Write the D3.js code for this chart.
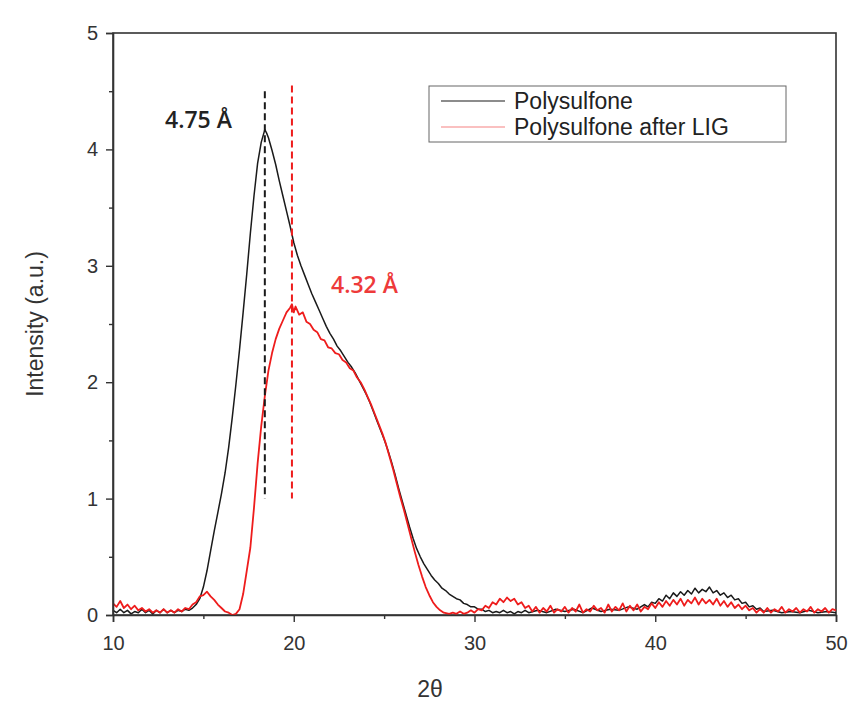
<!DOCTYPE html>
<html>
<head>
<meta charset="utf-8">
<script src="https://cdn.jsdelivr.net/npm/d3@7"></script>
<style>
  html, body { margin: 0; padding: 0; background: #fff; }
  svg { display: block; }
</style>
</head>
<body>
<svg id="chart"></svg>
<script>
// XRD patterns, 2-theta vs intensity
const polyTheta = [10.0,10.2,10.4,10.6,10.8,11.0,11.2,11.4,11.6,11.8,12.0,12.2,12.4,12.6,12.8,13.0,13.2,13.4,13.6,13.8,14.0,14.2,14.4,14.6,14.8,15.0,15.2,15.4,15.6,15.8,16.0,16.2,16.4,16.6,16.8,17.0,17.2,17.4,17.6,17.8,18.0,18.2,18.4,18.5,18.6,18.8,19.0,19.2,19.4,19.6,19.8,20.0,20.2,20.4,20.6,20.8,21.0,21.2,21.4,21.6,21.8,22.0,22.2,22.4,22.6,22.8,23.0,23.2,23.4,23.6,23.8,24.0,24.2,24.4,24.6,24.8,25.0,25.2,25.4,25.6,25.8,26.0,26.2,26.4,26.6,26.8,27.0,27.2,27.4,27.6,27.8,28.0,28.2,28.4,28.6,28.8,29.0,29.2,29.4,29.6,29.8,30.0,30.2,30.4,30.6,30.8,31.0,31.2,31.4,31.6,31.8,32.0,32.2,32.4,32.6,32.8,33.0,33.5,34.0,34.5,35.0,35.5,36.0,36.5,37.0,37.5,38.0,38.5,39.0,39.4,39.6,39.8,40.0,40.2,40.4,40.6,40.8,41.0,41.2,41.4,41.6,41.8,42.0,42.2,42.4,42.6,42.8,43.0,43.2,43.4,43.6,43.8,44.0,44.2,44.4,44.6,44.8,45.0,45.2,45.4,45.6,45.8,46.0,46.5,47.0,47.5,48.0,48.5,49.0,49.5,50.0];
const polyI = [0.04,0.02,0.05,0.02,0.04,0.01,0.03,0.02,0.05,0.02,0.04,0.01,0.04,0.02,0.05,0.02,0.04,0.02,0.04,0.03,0.05,0.04,0.06,0.09,0.14,0.24,0.38,0.55,0.72,0.88,1.04,1.22,1.44,1.70,1.98,2.28,2.60,2.93,3.28,3.60,3.88,4.06,4.17,4.14,4.10,3.99,3.87,3.73,3.60,3.47,3.34,3.20,3.09,3.00,2.92,2.84,2.76,2.69,2.62,2.55,2.48,2.42,2.37,2.31,2.27,2.22,2.17,2.13,2.08,2.02,1.96,1.90,1.83,1.75,1.67,1.59,1.51,1.42,1.32,1.21,1.09,0.98,0.87,0.76,0.66,0.57,0.50,0.44,0.39,0.34,0.30,0.27,0.23,0.21,0.18,0.16,0.14,0.13,0.10,0.09,0.07,0.07,0.05,0.05,0.03,0.04,0.02,0.03,0.02,0.04,0.02,0.03,0.01,0.03,0.02,0.04,0.02,0.04,0.02,0.05,0.03,0.05,0.02,0.06,0.03,0.05,0.04,0.07,0.05,0.09,0.07,0.11,0.10,0.14,0.12,0.17,0.14,0.19,0.16,0.20,0.17,0.21,0.18,0.23,0.19,0.22,0.20,0.24,0.19,0.21,0.17,0.19,0.15,0.17,0.13,0.14,0.10,0.11,0.07,0.08,0.05,0.06,0.03,0.04,0.02,0.03,0.02,0.04,0.02,0.03,0.02];

const ligTheta = [10.0,10.2,10.4,10.6,10.8,11.0,11.2,11.4,11.6,11.8,12.0,12.2,12.4,12.6,12.8,13.0,13.2,13.4,13.6,13.8,14.0,14.2,14.4,14.6,14.8,15.0,15.2,15.4,15.6,15.8,16.0,16.2,16.4,16.6,16.8,17.0,17.2,17.4,17.6,17.8,18.0,18.2,18.4,18.6,18.8,19.0,19.2,19.4,19.6,19.8,19.9,20.0,20.1,20.3,20.5,20.7,20.9,21.1,21.3,21.5,21.7,21.9,22.1,22.3,22.5,22.7,22.9,23.1,23.3,23.5,23.7,23.9,24.1,24.3,24.5,24.7,24.9,25.1,25.3,25.5,25.7,25.9,26.1,26.3,26.5,26.7,26.9,27.1,27.3,27.5,27.7,27.9,28.1,28.3,28.6,28.8,29.0,29.2,29.4,29.6,29.8,30.0,30.2,30.4,30.6,30.8,31.0,31.2,31.4,31.6,31.8,32.0,32.2,32.4,32.6,32.8,33.0,33.2,33.4,33.6,33.8,34.0,34.2,34.4,34.6,34.8,35.0,35.2,35.4,35.6,35.8,36.0,36.2,36.4,36.6,36.8,37.0,37.2,37.4,37.6,37.8,38.0,38.2,38.4,38.6,38.8,39.0,39.2,39.4,39.6,39.8,40.0,40.2,40.4,40.6,40.8,41.0,41.2,41.4,41.6,41.8,42.0,42.2,42.4,42.6,42.8,43.0,43.2,43.4,43.6,43.8,44.0,44.2,44.4,44.6,44.8,45.0,45.2,45.4,45.6,45.8,46.0,46.2,46.4,46.6,46.8,47.0,47.2,47.4,47.6,47.8,48.0,48.2,48.4,48.6,48.8,49.0,49.2,49.4,49.6,49.8,50.0];
const ligI = [0.10,0.07,0.12,0.06,0.09,0.05,0.08,0.04,0.06,0.03,0.05,0.02,0.04,0.02,0.05,0.02,0.04,0.02,0.05,0.03,0.06,0.05,0.09,0.11,0.16,0.17,0.20,0.16,0.13,0.09,0.06,0.03,0.02,0.00,0.01,0.05,0.18,0.38,0.58,0.92,1.30,1.62,1.88,2.10,2.25,2.37,2.46,2.53,2.60,2.64,2.67,2.60,2.65,2.58,2.60,2.52,2.50,2.45,2.43,2.37,2.36,2.30,2.29,2.25,2.24,2.19,2.17,2.12,2.10,2.04,2.00,1.94,1.87,1.80,1.72,1.64,1.56,1.47,1.36,1.25,1.13,1.01,0.90,0.78,0.66,0.54,0.43,0.33,0.24,0.17,0.11,0.07,0.04,0.02,0.01,0.02,0.01,0.03,0.01,0.02,0.04,0.02,0.05,0.04,0.08,0.06,0.11,0.09,0.14,0.11,0.15,0.12,0.14,0.09,0.11,0.06,0.08,0.03,0.07,0.02,0.06,0.03,0.08,0.02,0.05,0.03,0.07,0.02,0.06,0.03,0.09,0.02,0.05,0.03,0.08,0.04,0.06,0.02,0.09,0.03,0.07,0.04,0.10,0.03,0.08,0.04,0.09,0.03,0.07,0.05,0.10,0.06,0.11,0.07,0.12,0.08,0.13,0.09,0.14,0.08,0.13,0.10,0.15,0.09,0.14,0.10,0.13,0.09,0.14,0.08,0.12,0.07,0.11,0.06,0.09,0.05,0.08,0.04,0.06,0.02,0.05,0.02,0.06,0.02,0.05,0.03,0.07,0.02,0.05,0.03,0.06,0.02,0.05,0.03,0.07,0.02,0.05,0.03,0.06,0.02,0.05,0.04];

const seriesNames = ["Polysulfone", "Polysulfone after LIG"];
const seriesColors = ["#1a1a1a", "#ee1c1c"];
const xTicks = [10, 20, 30, 40, 50];
const xMinor = [15, 25, 35, 45];
const yTicks = [0, 1, 2, 3, 4, 5];
const yMinor = [0.5, 1.5, 2.5, 3.5, 4.5];
// marked peaks: position, top and bottom of dashed line, label
const peakTheta = [18.4, 19.9];
const peakTop = [4.5, 4.55];
const peakBottom = [1.0, 1.0];
const peakLabels = ["4.75 Å", "4.32 Å"];

const W = 851, H = 703;
const margin = { top: 33, right: 15, bottom: 88, left: 113 };

const svg = d3.select("#chart").attr("width", W).attr("height", H);

const x = d3.scaleLinear().domain([10, 50]).range([margin.left, W - margin.right]);
const y = d3.scaleLinear().domain([0, 5]).range([H - margin.bottom, margin.top]);

const axisColor = "#333";
const tickFont = "'Liberation Sans', Arial, sans-serif";

// frame
svg.append("rect")
  .attr("x", x(10)).attr("y", y(5))
  .attr("width", x(50) - x(10)).attr("height", y(0) - y(5))
  .attr("fill", "none").attr("stroke", axisColor).attr("stroke-width", 1.6);

// series
const line = d3.line().x(d => x(d[0])).y(d => y(d[1]));
const series = [
  d3.zip(polyTheta, polyI),
  d3.zip(ligTheta, ligI)
];
series.forEach((s, i) => {
  svg.append("path")
    .datum(s)
    .attr("d", line)
    .attr("fill", "none")
    .attr("stroke", seriesColors[i])
    .attr("stroke-width", i === 0 ? 1.5 : 1.8)
    .attr("stroke-linejoin", "round");
});

// x axis
svg.append("g").attr("transform", `translate(0,${y(0)})`)
  .call(d3.axisBottom(x).tickValues(xTicks).tickSize(7).tickPadding(14).tickFormat(d3.format("d")));
svg.append("g").attr("transform", `translate(0,${y(0)})`)
  .call(d3.axisBottom(x).tickValues(xMinor).tickSize(4).tickFormat(""))
  .call(g => g.select(".domain").remove());

// y axis
svg.append("g").attr("transform", `translate(${x(10)},0)`)
  .call(d3.axisLeft(y).tickValues(yTicks).tickSize(7).tickPadding(8).tickFormat(d3.format("d")));
svg.append("g").attr("transform", `translate(${x(10)},0)`)
  .call(d3.axisLeft(y).tickValues(yMinor).tickSize(4).tickFormat(""))
  .call(g => g.select(".domain").remove());

svg.selectAll(".tick line").attr("stroke", axisColor).attr("stroke-width", 1.4);
svg.selectAll(".domain").attr("stroke", axisColor).attr("stroke-width", 1.6);
svg.selectAll(".tick text")
  .attr("fill", "#333").attr("font-size", 20).attr("font-family", tickFont);

// axis titles
svg.append("text")
  .attr("x", 430).attr("y", 697)
  .attr("text-anchor", "middle")
  .attr("font-size", 23).attr("fill", "#333").attr("font-family", tickFont)
  .text("2θ");

svg.append("text")
  .attr("transform", `translate(43,${(y(0) + y(5)) / 2}) rotate(-90)`)
  .attr("text-anchor", "middle")
  .attr("font-size", 23).attr("fill", "#333").attr("font-family", tickFont)
  .text("Intensity (a.u.)");

// dashed peak markers and d-spacing labels
peakTheta.forEach((t, i) => {
  svg.append("line")
    .attr("x1", x(t)).attr("x2", x(t))
    .attr("y1", y(peakTop[i])).attr("y2", y(peakBottom[i]))
    .attr("stroke", seriesColors[i])
    .attr("stroke-width", 2)
    .attr("stroke-dasharray", "7,4");
});
svg.append("text")
  .attr("x", 165).attr("y", 128)
  .attr("font-size", 23).attr("font-weight", 600).attr("fill", "#222")
  .attr("font-family", "'Open Sans', sans-serif")
  .text(peakLabels[0]);
svg.append("text")
  .attr("x", 331).attr("y", 293)
  .attr("font-size", 23).attr("font-weight", 600).attr("fill", "#ee3a3a")
  .attr("font-family", "'Open Sans', sans-serif")
  .text(peakLabels[1]);

// legend
const legend = svg.append("g").attr("transform", "translate(429,86)");
legend.append("rect")
  .attr("width", 357).attr("height", 56)
  .attr("fill", "#fff").attr("stroke", "#666").attr("stroke-width", 1);
seriesNames.forEach((name, i) => {
  const ly = 15 + i * 26;
  legend.append("line")
    .attr("x1", 12).attr("x2", 76).attr("y1", ly).attr("y2", ly)
    .attr("stroke", seriesColors[i]).attr("stroke-width", i === 0 ? 1.2 : 1)
    .attr("opacity", i === 0 ? 1 : 0.55);
  legend.append("text")
    .attr("x", 85).attr("y", ly + 8)
    .attr("font-size", 23).attr("fill", "#222").attr("font-family", tickFont)
    .text(name);
});
</script>
</body>
</html>
